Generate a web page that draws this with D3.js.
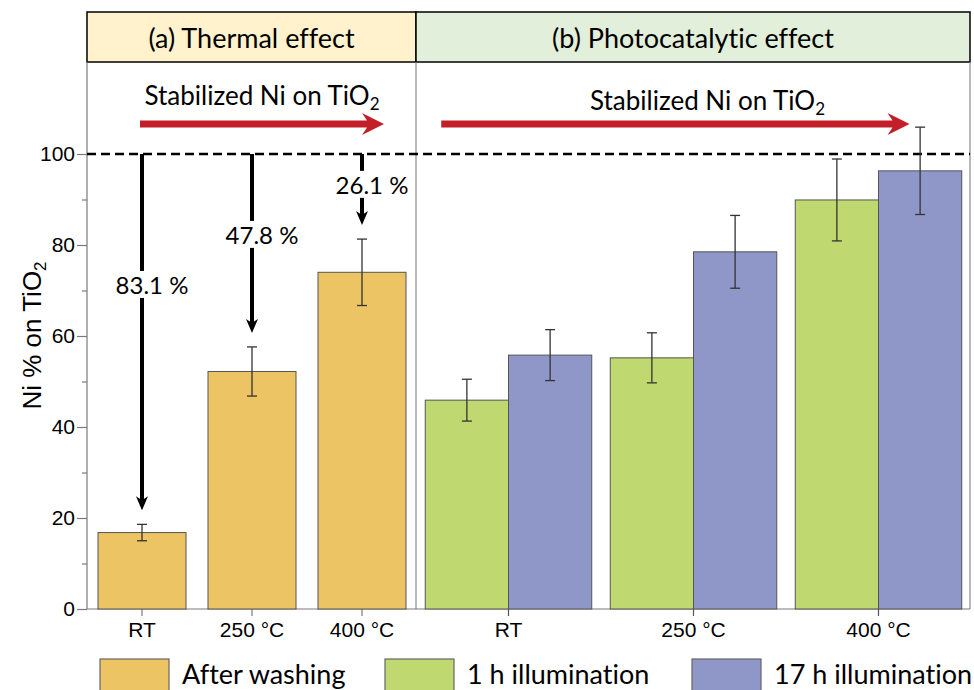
<!DOCTYPE html>
<html>
<head>
<meta charset="utf-8">
<script src="https://cdn.jsdelivr.net/npm/d3@7"></script>
<style>
  body { margin: 0; background: #fff; }
  svg { display: block; }
  text { font-variant-ligatures: none; font-feature-settings: "liga" 0, "clig" 0; }
</style>
</head>
<body>
<svg id="chart" width="974" height="690"></svg>
<script>
// panel (a) thermal effect
const thermalCategories = ["RT", "250 °C", "400 °C"];
const washValues = [16.8, 52.2, 74.0];
const washErrors = [1.8, 5.4, 7.3];
const lossLabels = ["83.1 %", "47.8 %", "26.1 %"];

// panel (b) photocatalytic effect
const photoCategories = ["RT", "250 °C", "400 °C"];
const seriesNames = ["1 h illumination", "17 h illumination"];
const illum1hValues = [45.9, 55.2, 89.9];
const illum1hErrors = [4.6, 5.5, 9.0];
const illum17hValues = [55.8, 78.5, 96.3];
const illum17hErrors = [5.6, 8.0, 9.6];

const yTicks = [0, 20, 40, 60, 80, 100];
const yMinorTicks = [10, 30, 50, 70, 90];
const legendNames = ["After washing", "1 h illumination", "17 h illumination"];

const colors = {
  wash: "#ECC464",
  h1: "#BFD870",
  h17: "#8F97C9",
  red: "#C21F28"
};
const calibri = "Lato, 'Open Sans', sans-serif";
const arial = "'Liberation Sans', Arial, sans-serif";

const svg = d3.select("#chart");
const plotLeft = 87, plotRight = 970, plotTop = 62, headTop = 12;

const y = d3.scaleLinear().domain([0, 100]).range([609, 154]);
const xa = d3.scaleBand().domain(thermalCategories).range([plotLeft, 417])
  .paddingInner(0.2).paddingOuter(0.1);
const xb = d3.scaleBand().domain(photoCategories).range([416, 971])
  .paddingInner(0.1).paddingOuter(0.05);
const xs = d3.scaleBand().domain(seriesNames).range([0, xb.bandwidth()]);
const divider = 416;

// header boxes
const headers = [
  { text: "(a) Thermal effect", x0: plotLeft, x1: divider, fill: "#FFF2CC" },
  { text: "(b) Photocatalytic effect", x0: divider, x1: plotRight, fill: "#E2EFDA" }
];
headers.forEach(h => {
  svg.append("rect")
    .attr("x", h.x0).attr("y", headTop)
    .attr("width", h.x1 - h.x0).attr("height", plotTop - headTop)
    .attr("fill", h.fill).attr("stroke", "#000").attr("stroke-width", 1.5);
  svg.append("text")
    .attr("x", (h.x0 + h.x1) / 2).attr("y", 48)
    .attr("text-anchor", "middle")
    .style("font-family", calibri).style("font-size", "27px")
    .text(h.text);
});

// frame lines
svg.append("line").attr("x1", divider).attr("x2", divider).attr("y1", plotTop).attr("y2", y(0))
  .attr("stroke", "#8a8a8a").attr("stroke-width", 1.2);
svg.append("line").attr("x1", plotRight).attr("x2", plotRight).attr("y1", plotTop).attr("y2", y(0))
  .attr("stroke", "#8a8a8a").attr("stroke-width", 1.2);
svg.append("line").attr("x1", plotLeft).attr("x2", plotLeft).attr("y1", plotTop).attr("y2", y(0))
  .attr("stroke", "#7a7a7a").attr("stroke-width", 1.2);
svg.append("line").attr("x1", plotLeft).attr("x2", plotRight).attr("y1", y(0)).attr("y2", y(0))
  .attr("stroke", "#7a7a7a").attr("stroke-width", 1.2);

// y axis
const yAxis = svg.append("g").attr("transform", `translate(${plotLeft},0)`)
  .call(d3.axisLeft(y).tickValues(yTicks).tickSize(10).tickSizeOuter(0).tickPadding(2));
yAxis.select(".domain").remove();
yAxis.selectAll(".tick line").attr("stroke", "#7a7a7a").attr("stroke-width", 1.2);
yAxis.selectAll(".tick text").style("font-family", arial).style("font-size", "21px").attr("fill", "#000");
const yMinor = svg.append("g").attr("transform", `translate(${plotLeft},0)`)
  .call(d3.axisLeft(y).tickValues(yMinorTicks).tickSize(5).tickFormat(""));
yMinor.select(".domain").remove();
yMinor.selectAll(".tick line").attr("stroke", "#7a7a7a").attr("stroke-width", 1.2);

svg.append("text")
  .attr("transform", `translate(41,${(plotTop + y(0)) / 2}) rotate(-90)`)
  .attr("text-anchor", "middle")
  .style("font-family", arial).style("font-size", "26px")
  .call(t => {
    t.append("tspan").text("Ni % on TiO");
    t.append("tspan").attr("dy", "0.3em").style("font-size", "17px").text("2");
  });

// x axes
const xaAxis = svg.append("g").attr("transform", `translate(0,${y(0)})`)
  .call(d3.axisBottom(xa).tickSize(7).tickSizeOuter(0).tickPadding(6));
const xbAxis = svg.append("g").attr("transform", `translate(0,${y(0)})`)
  .call(d3.axisBottom(xb).tickSize(7).tickSizeOuter(0).tickPadding(6));
[xaAxis, xbAxis].forEach(ax => {
  ax.select(".domain").remove();
  ax.selectAll(".tick line").attr("stroke", "#7a7a7a").attr("stroke-width", 1.2);
  ax.selectAll(".tick text").style("font-family", arial).style("font-size", "21px").attr("fill", "#000");
});

// 100 % reference line
svg.append("line")
  .attr("x1", plotLeft).attr("x2", plotRight).attr("y1", y(100)).attr("y2", y(100))
  .attr("stroke", "#000").attr("stroke-width", 2.5).attr("stroke-dasharray", "9,5");

// bars
const washData = thermalCategories.map((c, i) => ({ cat: c, v: washValues[i], e: washErrors[i] }));
svg.append("g").selectAll("rect").data(washData).join("rect")
  .attr("x", d => xa(d.cat)).attr("width", xa.bandwidth())
  .attr("y", d => y(d.v)).attr("height", d => y(0) - y(d.v))
  .attr("fill", colors.wash).attr("stroke", "#555").attr("stroke-width", 1);

const photoData = [];
photoCategories.forEach((c, i) => {
  photoData.push({ cat: c, s: seriesNames[0], v: illum1hValues[i], e: illum1hErrors[i], fill: colors.h1 });
  photoData.push({ cat: c, s: seriesNames[1], v: illum17hValues[i], e: illum17hErrors[i], fill: colors.h17 });
});
svg.append("g").selectAll("rect").data(photoData).join("rect")
  .attr("x", d => xb(d.cat) + xs(d.s)).attr("width", xs.bandwidth())
  .attr("y", d => y(d.v)).attr("height", d => y(0) - y(d.v))
  .attr("fill", d => d.fill).attr("stroke", "#555").attr("stroke-width", 1);

// keep the photocatalytic tick marks above the bars
xbAxis.raise();
xbAxis.selectAll(".tick line").attr("stroke", "#555");

// error bars
const errData = washData.map(d => ({ cx: xa(d.cat) + xa.bandwidth() / 2, v: d.v, e: d.e }))
  .concat(photoData.map(d => ({ cx: xb(d.cat) + xs(d.s) + xs.bandwidth() / 2, v: d.v, e: d.e })));
const eg = svg.append("g").attr("stroke", "#333").attr("stroke-width", 1.3);
errData.forEach(d => {
  eg.append("line").attr("x1", d.cx).attr("x2", d.cx).attr("y1", y(d.v + d.e)).attr("y2", y(d.v - d.e));
  eg.append("line").attr("x1", d.cx - 5).attr("x2", d.cx + 5).attr("y1", y(d.v + d.e)).attr("y2", y(d.v + d.e));
  eg.append("line").attr("x1", d.cx - 5).attr("x2", d.cx + 5).attr("y1", y(d.v - d.e)).attr("y2", y(d.v - d.e));
});

// black loss arrows in panel (a)
washData.forEach((d, i) => {
  const cx = xa(d.cat) + xa.bandwidth() / 2;
  const y0 = y(100);
  const tip = y(d.v + d.e) - 14;
  svg.append("line").attr("x1", cx).attr("x2", cx).attr("y1", y0).attr("y2", tip - 8)
    .attr("stroke", "#000").attr("stroke-width", 4);
  svg.append("path")
    .attr("d", `M${cx},${tip} L${cx - 6},${tip - 14} L${cx},${tip - 10} L${cx + 6},${tip - 14} Z`)
    .attr("fill", "#000");
  const ly = y(93 - 11 * (thermalCategories.length - 1 - i));
  const lbl = svg.append("g");
  const txt = lbl.append("text")
    .attr("x", cx + 10).attr("y", ly + 8)
    .attr("text-anchor", "middle")
    .style("font-family", calibri).style("font-size", "24px")
    .text(lossLabels[i]);
  const bb = txt.node().getBBox();
  lbl.insert("rect", "text")
    .attr("x", cx - 4).attr("width", 8)
    .attr("y", bb.y + 1).attr("height", bb.height - 2)
    .attr("fill", "#fff");
});

// red "stabilized" arrows
function redArrow(x0, x1, yy) {
  svg.append("path")
    .attr("d", `M${x0},${yy - 3.5} L${x1 - 17},${yy - 3.5} L${x1 - 22},${yy - 11} L${x1},${yy}
      L${x1 - 22},${yy + 11} L${x1 - 17},${yy + 3.5} L${x0},${yy + 3.5} Z`)
    .attr("fill", colors.red);
}
function stabText(cx, by) {
  svg.append("text")
    .attr("x", cx).attr("y", by).attr("text-anchor", "middle")
    .style("font-family", calibri).style("font-size", "26px")
    .call(t => {
      t.append("tspan").text("Stabilized Ni on TiO");
      t.append("tspan").attr("dy", "0.3em").style("font-size", "17px").text("2");
    });
}
redArrow(xa("RT") + 42, xa("400 °C") + xa.bandwidth() - 22, 124);
stabText(xa("250 °C") + xa.bandwidth() / 2 + 10, 105);
redArrow(xb("RT") + 16, xb("400 °C") + xs(seriesNames[1]) + 31, 124);
stabText(xb("250 °C") + xb.bandwidth() / 2 + 14, 110);

// legend
const legendX = [100, 385, 692];
const legendFill = [colors.wash, colors.h1, colors.h17];
legendNames.forEach((name, i) => {
  svg.append("rect")
    .attr("x", legendX[i]).attr("y", 659).attr("width", 69).attr("height", 40)
    .attr("fill", legendFill[i]).attr("stroke", "#666").attr("stroke-width", 1.2);
  svg.append("text")
    .attr("x", legendX[i] + 82).attr("y", 684)
    .style("font-family", calibri).style("font-size", "27px")
    .text(name);
});
</script>
</body>
</html>
